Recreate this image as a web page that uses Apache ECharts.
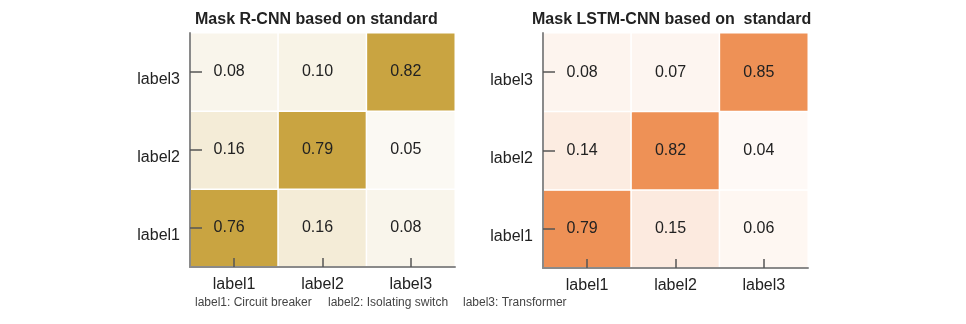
<!DOCTYPE html>
<html>
<head>
<meta charset="utf-8">
<script src="https://cdn.jsdelivr.net/npm/echarts@6/dist/echarts.min.js"></script>
<style>
  html, body { margin: 0; padding: 0; background: #fff; }
  #chart { width: 966px; height: 324px; }
</style>
</head>
<body>
<div id="chart"></div>
<script>
// 类别
const categories = ['label1', 'label2', 'label3'];
// 每行对应 y 轴的 label1..label3，每列对应 x 轴的 label1..label3
const rcnnRows = [
  [0.76, 0.16, 0.08],
  [0.16, 0.79, 0.05],
  [0.08, 0.10, 0.82]
];
const lstmRows = [
  [0.79, 0.15, 0.06],
  [0.14, 0.82, 0.04],
  [0.08, 0.07, 0.85]
];
const titles = ['Mask R-CNN based on standard', 'Mask LSTM-CNN based on  standard'];
const notes = ['label1: Circuit breaker', 'label2: Isolating switch', 'label3: Transformer'];

const font = 'Liberation Sans, Arial, sans-serif';

// 转成 heatmap 需要的 [x, y, value]
const toCells = rows => {
  const out = [];
  rows.forEach((row, y) => row.forEach((v, x) => out.push([x, y, v])));
  return out;
};

const makeXAxis = gridIndex => ({
  type: 'category',
  gridIndex,
  data: categories,
  z: 10,
  axisLine: { show: true, lineStyle: { color: '#8a8a8a', width: 2 } },
  axisTick: { show: true, alignWithLabel: true, inside: true, length: 9, lineStyle: { color: '#555', width: 1.5 } },
  axisLabel: { color: '#222', fontSize: 16, fontFamily: font, margin: 10 },
  splitLine: { show: false }
});

const makeYAxis = gridIndex => ({
  type: 'category',
  gridIndex,
  data: categories,
  z: 10,
  axisLine: { show: true, lineStyle: { color: '#8a8a8a', width: 2 } },
  axisTick: { show: true, alignWithLabel: true, inside: true, length: 12, lineStyle: { color: '#555', width: 1.5 } },
  axisLabel: { color: '#222', fontSize: 16, fontFamily: font, margin: 10, verticalAlign: 'top' },
  splitLine: { show: false }
});

const makeSeries = (idx, rows) => ({
  type: 'heatmap',
  xAxisIndex: idx,
  yAxisIndex: idx,
  data: toCells(rows),
  itemStyle: { borderColor: '#fff', borderWidth: 1.5 },
  label: {
    show: true,
    color: '#222',
    fontSize: 16,
    fontFamily: font,
    offset: [-5, 0],
    formatter: p => p.value[2].toFixed(2)
  },
  emphasis: { disabled: true }
});

const chart = echarts.init(document.getElementById('chart'));

chart.setOption({
  backgroundColor: '#fff',
  animation: false,
  title: [
    { text: titles[0], left: 195, top: 12, padding: 0,
      textStyle: { fontSize: 16, fontWeight: 'bold', color: '#222', fontFamily: font } },
    { text: titles[1], left: 532, top: 12, padding: 0,
      textStyle: { fontSize: 16, fontWeight: 'bold', color: '#222', fontFamily: font } }
  ],
  grid: [
    { left: 190, top: 33, width: 265, height: 234 },
    { left: 543, top: 33, width: 265, height: 235 }
  ],
  xAxis: [makeXAxis(0), makeXAxis(1)],
  yAxis: [makeYAxis(0), makeYAxis(1)],
  visualMap: [
    { show: false, seriesIndex: 0, min: 0, max: 0.76, inRange: { color: ['#ffffff', '#c9a441'] } },
    { show: false, seriesIndex: 1, min: 0, max: 0.79, inRange: { color: ['#ffffff', '#ee9156'] } }
  ],
  series: [makeSeries(0, rcnnRows), makeSeries(1, lstmRows)],
  graphic: notes.map((t, i) => ({
    type: 'text',
    left: [195, 328, 463][i],
    top: 297,
    style: { text: t, fontSize: 12, fill: '#444', fontFamily: font }
  }))
});
</script>
</body>
</html>
